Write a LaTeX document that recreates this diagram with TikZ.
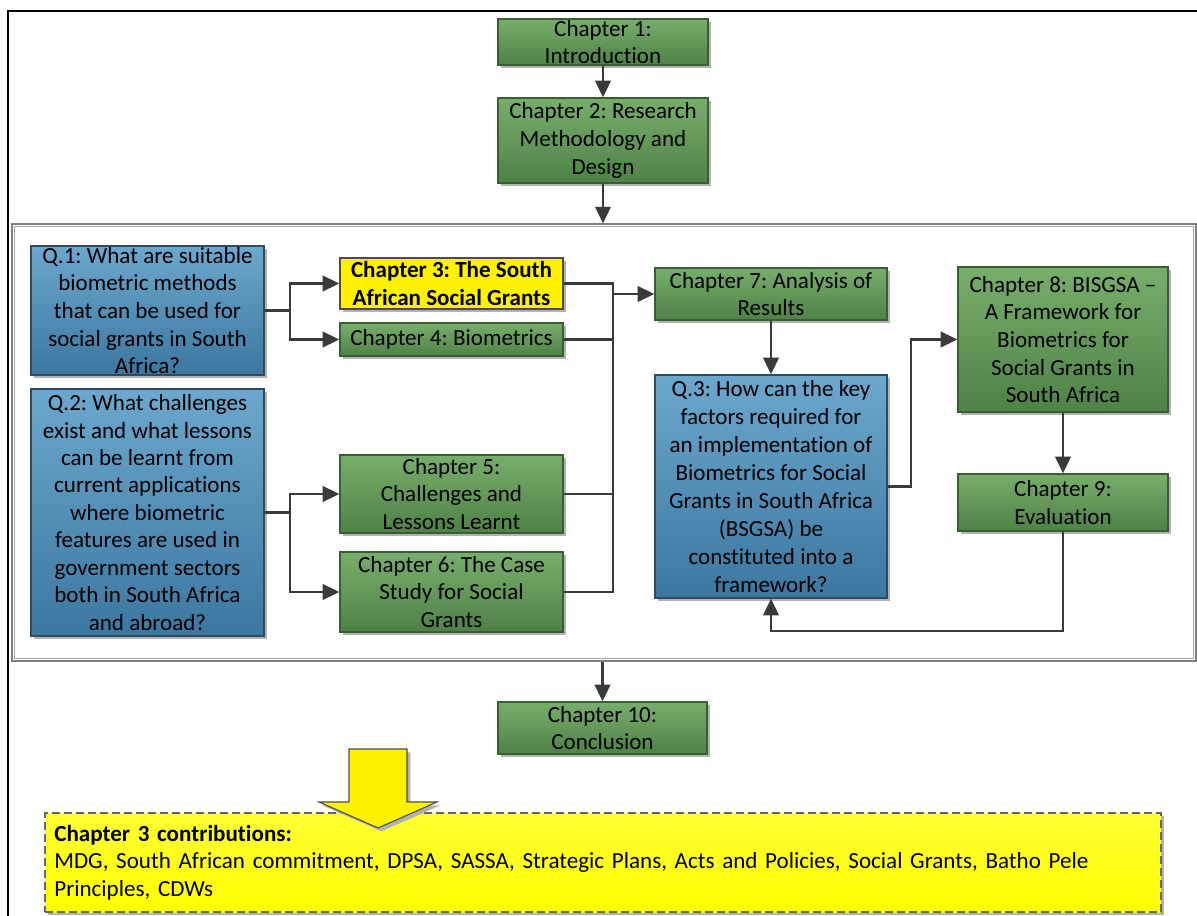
\documentclass[tikz,border=0pt]{standalone}
\usepackage{fontspec}
\setmainfont{Carlito}[Ligatures=NoCommon]
\usetikzlibrary{arrows.meta,shadows}

\definecolor{gtop}{HTML}{78AE6C}
\definecolor{gbot}{HTML}{4E8246}
\definecolor{gline}{HTML}{3A5E33}
\definecolor{btop}{HTML}{6CA7CD}
\definecolor{bbot}{HTML}{3C77A0}
\definecolor{bline}{HTML}{2E4A60}
\definecolor{connc}{HTML}{3A3A3A}

\tikzset{
  box/.style={draw, line width=0.9pt, align=center, inner sep=0pt,
    font=\fontsize{17.3}{20.7}\selectfont,
    drop shadow={shadow xshift=2.5pt, shadow yshift=-2.5pt, fill=black!30, opacity=1}},
  chap/.style={box, draw=gline, top color=gtop, bottom color=gbot},
  ques/.style={box, draw=bline, top color=btop, bottom color=bbot},
  hilite/.style={box, draw=black!70, fill=yellow,
    font=\fontsize{17.3}{20.7}\selectfont\bfseries},
  link/.style={draw=connc, line width=2pt},
  flow/.style={link, -{Triangle[length=12.5pt,width=11.5pt]}},
}

\begin{document}
\frenchspacing
\begin{tikzpicture}[x=0.75pt,y=-0.75pt]
\useasboundingbox (0,0) rectangle (1197,916);
\clip (0,0) rectangle (1197,916);

% page frame
\draw[line width=1.6pt] (8,11) rectangle (1240,950);

% inner double frame around chapters 3--9
\node[draw=black!50, line width=0.8pt, minimum width=888pt, minimum height=327.75pt,
      inner sep=0pt] (frame) at (604,442.5) {};
\draw[black!35, line width=0.8pt]
  ([xshift=2.5pt,yshift=-2.5pt]frame.north west) rectangle
  ([xshift=-2.5pt,yshift=2.5pt]frame.south east);

% chapters and questions
\node[chap, minimum width=157.5pt, minimum height=34.5pt] (ch1) at (603,42)
  {Chapter 1:\\Introduction};
\node[chap, minimum width=157.5pt, minimum height=63.75pt] (ch2) at (603,140.5)
  {Chapter 2: Research\\Methodology and\\Design};

\node[ques, minimum width=174.75pt, minimum height=96.75pt] (q1) at (147.5,310.5)
  {Q.1: What are suitable\\biometric methods\\that can be used for\\social grants in South\\Africa?};
\node[ques, minimum width=174.75pt, minimum height=185.25pt,
      font=\fontsize{17.3}{20.6}\selectfont] (q2) at (147.5,512.5)
  {Q.2: What challenges\\exist and what lessons\\can be learnt from\\current applications\\where biometric\\features are used in\\government sectors\\both in South Africa\\and abroad?};

\node[hilite, minimum width=167.25pt, minimum height=38.25pt] (ch3) at (451.5,283.5)
  {Chapter 3: The South\\African Social Grants};
\node[chap, minimum width=167.25pt, minimum height=24.75pt] (ch4) at (451.5,339.5)
  {Chapter 4: Biometrics};
\node[chap, minimum width=167.25pt, minimum height=58.5pt] (ch5) at (451.5,494)
  {Chapter 5:\\Challenges and\\Lessons Learnt};
\node[chap, minimum width=167.25pt, minimum height=60pt] (ch6) at (451.5,592)
  {Chapter 6: The Case\\Study for Social\\Grants};

\node[chap, minimum width=174pt, minimum height=39pt] (ch7) at (771,294)
  {Chapter 7: Analysis of\\Results};
\node[ques, minimum width=174pt, minimum height=167.25pt,
      font=\fontsize{17.3}{21}\selectfont] (q3) at (771,486.5)
  {Q.3: How can the key\\factors required for\\an implementation of\\Biometrics for Social\\Grants in South Africa\\(BSGSA) be\\constituted into a\\framework?};

\node[chap, minimum width=157.5pt, minimum height=108.75pt] (ch8) at (1063,339.5)
  {Chapter 8: BISGSA --\\A Framework for\\Biometrics for\\Social Grants in\\South Africa};
\node[chap, minimum width=157.5pt, minimum height=42.75pt] (ch9) at (1063,502.5)
  {Chapter 9:\\Evaluation};

\node[chap, minimum width=156.75pt, minimum height=39pt] (ch10) at (602.5,728)
  {Chapter 10:\\Conclusion};

% connectors
\coordinate (jq1) at (290,0);
\coordinate (bus) at (613,0);
\coordinate (jq3) at (911,0);
\coordinate (loop) at (0,631);

\draw[flow] (ch1) -- (ch2);
\draw[flow] (ch2.south) -- (ch2.south |- frame.north);

\draw[link] (q1.east) -- (jq1 |- q1.east);
\draw[flow] (jq1 |- q1.east) |- (ch3.west);
\draw[flow] (jq1 |- q1.east) |- (ch4.west);

\draw[link] (q2.east) -- (jq1 |- q2.east);
\draw[flow] (jq1 |- q2.east) |- (ch5.west);
\draw[flow] (jq1 |- q2.east) |- (ch6.west);

\draw[link] (ch3.east) -| (bus |- ch6.east) -- (ch6.east);
\draw[link] (ch4.east) -- (bus |- ch4.east);
\draw[link] (ch5.east) -- (bus |- ch5.east);
\draw[flow] (bus |- ch7.west) -- (ch7.west);

\draw[flow] (ch7) -- (q3);
\draw[flow] (q3.east) -- (jq3 |- q3.east) |- (ch8.west);
\draw[flow] (ch8) -- (ch9);
\draw[flow] (ch9.south) -- (ch9.south |- loop) -| (q3.south);

\draw[flow] (ch10.north |- frame.south) -- (ch10.north);

% contributions of chapter 3
\node[draw=black!60, line width=0.8pt, dash pattern=on 6pt off 3pt,
      top color=yellow!80!white, bottom color=yellow,
      drop shadow={shadow xshift=2.5pt, shadow yshift=-2.5pt, fill=black!30, opacity=1},
      minimum width=837pt, minimum height=74.25pt, inner xsep=6.75pt, inner ysep=0pt,
      text width=823pt, align=left, font=\fontsize{17.3}{20.7}\selectfont]
  (contrib) at (603,862.5)
  {\textbf{Chapter 3 contributions:}\\MDG, South African commitment, DPSA, SASSA, Strategic Plans, Acts and Policies, Social Grants, Batho Pele\\Principles, CDWs};

% block arrow pointing at the contributions
\draw[fill=yellow, draw=black!70, line width=0.8pt,
      drop shadow={shadow xshift=2.5pt, shadow yshift=-2.5pt, fill=black!30, opacity=1}]
  (349,749) -- (407,749) -- (407,802) -- (437,802) -- (378,828) -- (319,802) -- (349,802) -- cycle;
\end{tikzpicture}
\end{document}
